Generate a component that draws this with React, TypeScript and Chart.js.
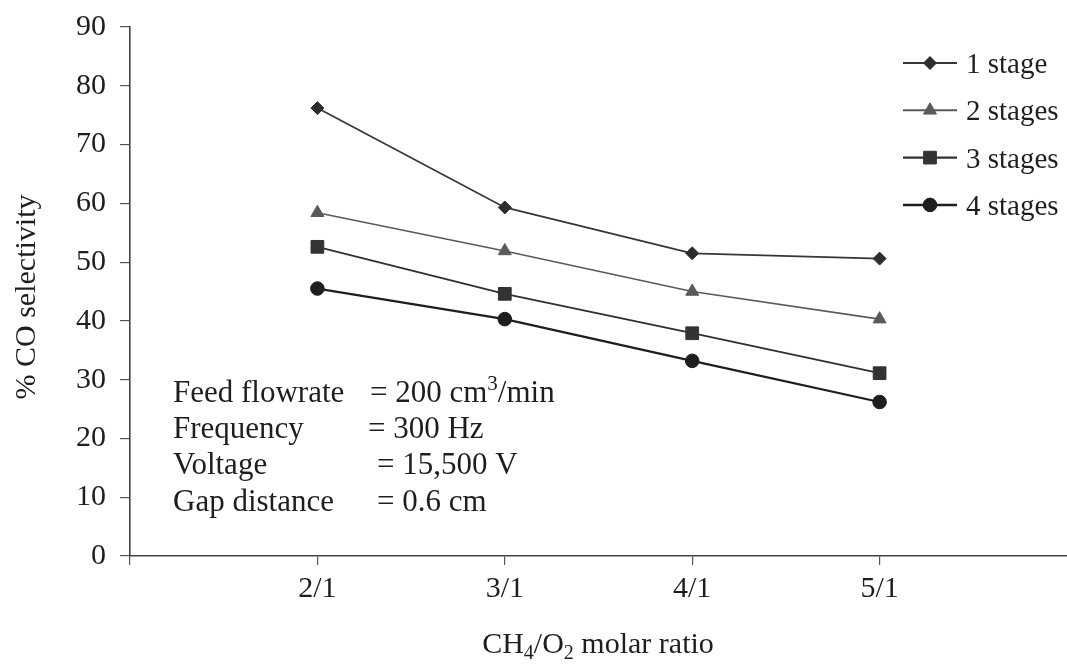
import React, { useEffect, useRef } from 'react';
import { Chart, registerables } from 'chart.js';

Chart.register(...registerables);

// ---- data ----
const categories = ['2/1', '3/1', '4/1', '5/1'];
const categoryPositions = [2, 3, 4, 5];
const seriesNames = ['1 stage', '2 stages', '3 stages', '4 stages'];
const stage1 = [76.2, 59.3, 51.5, 50.6];
const stage2 = [58.4, 51.9, 45.0, 40.3];
const stage3 = [52.6, 44.6, 37.9, 31.1];
const stage4 = [45.5, 40.3, 33.2, 26.2];
const yTitle = '% CO selectivity';
const xTitle = 'CH_4/O_2 molar ratio';
const annotationLabels = ['Feed flowrate', 'Frequency', 'Voltage', 'Gap distance'];
const annotationValues = ['= 200 cm^3/min', '= 300 Hz', '= 15,500 V', '= 0.6 cm'];

// ---- styles ----
const FONT = '"Liberation Serif", "DejaVu Serif", "Times New Roman", serif';
const TEXT = '#1e1e1e';
const styles = [
  { point: 'rectRot', radius: 6.5, color: '#2e2e2e', line: '#363636', width: 1.7 },
  { point: 'triangle', radius: 7.5, color: '#5a5a5a', line: '#5a5a5a', width: 1.6 },
  { point: 'rect', radius: 9, color: '#333333', line: '#303030', width: 1.8 },
  { point: 'circle', radius: 6.8, color: '#1e1e1e', line: '#1e1e1e', width: 2.2 },
];
const allSeries = [stage1, stage2, stage3, stage4];

type Seg = { t: string; k: 'n' | 'sup' | 'sub' };
function parseRich(s: string): Seg[] {
  const out: Seg[] = [];
  let buf = '';
  for (let i = 0; i < s.length; i++) {
    const c = s[i];
    if ((c === '^' || c === '_') && i + 1 < s.length) {
      if (buf) out.push({ t: buf, k: 'n' });
      buf = '';
      out.push({ t: s[i + 1], k: c === '^' ? 'sup' : 'sub' });
      i++;
    } else buf += c;
  }
  if (buf) out.push({ t: buf, k: 'n' });
  return out;
}

function drawRich(ctx: CanvasRenderingContext2D, s: string, x: number, y: number, size: number, align: 'left' | 'center') {
  const segs = parseRich(s);
  const small = Math.round(size * 0.68);
  const widths = segs.map((g) => {
    ctx.font = `${g.k === 'n' ? size : small}px ${FONT}`;
    return ctx.measureText(g.t).width;
  });
  const total = widths.reduce((a, b) => a + b, 0);
  let cx = align === 'center' ? x - total / 2 : x;
  ctx.textAlign = 'left';
  ctx.textBaseline = 'alphabetic';
  segs.forEach((g, i) => {
    ctx.font = `${g.k === 'n' ? size : small}px ${FONT}`;
    let dy = 0;
    if (g.k === 'sup') dy = -size * 0.38;
    if (g.k === 'sub') dy = size * 0.2;
    ctx.fillText(g.t, cx, y + dy);
    cx += widths[i];
  });
}

function drawMarker(ctx: CanvasRenderingContext2D, style: string, r: number, x: number, y: number) {
  ctx.beginPath();
  if (style === 'circle') {
    ctx.arc(x, y, r, 0, Math.PI * 2);
  } else if (style === 'rect') {
    const s = Math.SQRT1_2 * r;
    ctx.rect(x - s, y - s, 2 * s, 2 * s);
  } else if (style === 'rectRot') {
    ctx.moveTo(x, y - r);
    ctx.lineTo(x + r, y);
    ctx.lineTo(x, y + r);
    ctx.lineTo(x - r, y);
    ctx.closePath();
  } else if (style === 'triangle') {
    ctx.moveTo(x, y - r);
    ctx.lineTo(x + r * 0.866, y + r * 0.5);
    ctx.lineTo(x - r * 0.866, y + r * 0.5);
    ctx.closePath();
  }
  ctx.fill();
  ctx.stroke();
}

const overlayPlugin = {
  id: 'overlay',
  afterDraw(chart: any) {
    const ctx: CanvasRenderingContext2D = chart.ctx;
    ctx.save();
    ctx.fillStyle = TEXT;

    // y title
    ctx.save();
    ctx.translate(35, 297);
    ctx.rotate(-Math.PI / 2);
    drawRich(ctx, yTitle, 0, 0, 30, 'center');
    ctx.restore();

    // x title
    drawRich(ctx, xTitle, 598, 653, 30, 'center');

    // annotation
    const eqX = [370, 368, 377, 377];
    annotationLabels.forEach((lab, i) => {
      const by = 402 + i * 36.2;
      drawRich(ctx, lab, 173, by, 31, 'left');
      drawRich(ctx, annotationValues[i], eqX[i], by, 31, 'left');
    });

    // legend
    seriesNames.forEach((name, i) => {
      const st = styles[i];
      const ly = 63 + i * 47.3;
      ctx.strokeStyle = st.line;
      ctx.lineWidth = st.width + 0.3;
      ctx.beginPath();
      ctx.moveTo(903, ly);
      ctx.lineTo(957, ly);
      ctx.stroke();
      ctx.fillStyle = st.color;
      ctx.strokeStyle = st.color;
      ctx.lineWidth = 1;
      drawMarker(ctx, st.point, st.radius, 930, ly);
      ctx.fillStyle = TEXT;
      drawRich(ctx, name, 966, ly + 10, 29, 'left');
    });
    ctx.restore();
  },
};

export default function App() {
  const ref = useRef<HTMLCanvasElement | null>(null);
  useEffect(() => {
    document.body.style.margin = '0';
    document.body.style.background = '#ffffff';
    const canvas = ref.current;
    if (!canvas) return;
    const chart = new Chart(canvas, {
      type: 'line',
      data: {
        datasets: allSeries.map((vals, i) => ({
          label: seriesNames[i],
          data: vals.map((v, j) => ({ x: categoryPositions[j], y: v })),
          borderColor: styles[i].line,
          borderWidth: styles[i].width,
          backgroundColor: styles[i].color,
          pointBackgroundColor: styles[i].color,
          pointBorderColor: styles[i].color,
          pointBorderWidth: 1,
          pointStyle: styles[i].point as any,
          pointRadius: styles[i].radius,
          tension: 0,
          fill: false,
        })),
      },
      options: {
        animation: false,
        responsive: true,
        maintainAspectRatio: false,
        layout: { autoPadding: false, padding: { top: 27, right: 0, left: 0, bottom: 0 } },
        plugins: {
          legend: { display: false },
          tooltip: { enabled: false },
          title: { display: false },
        },
        scales: {
          x: {
            type: 'linear',
            min: 1,
            max: 6,
            afterFit: (s: any) => {
              s.height = 111;
              s.paddingLeft = 0;
              s.paddingRight = 0;
            },
            ticks: {
              stepSize: 1,
              autoSkip: false,
              maxRotation: 0,
              padding: 6,
              color: TEXT,
              font: { family: FONT, size: 30 },
              callback: (v: any) => {
                const idx = categoryPositions.indexOf(Number(v));
                return idx >= 0 ? categories[idx] : '';
              },
            },
            grid: {
              drawOnChartArea: false,
              drawTicks: true,
              tickLength: 9,
              color: (c: any) => (c.tick && c.tick.value === 6 ? 'rgba(0,0,0,0)' : '#555'),
              lineWidth: 1.2,
            },
            border: { display: true, color: '#444', width: 1.6 },
          },
          y: {
            min: 0,
            max: 90,
            afterFit: (s: any) => {
              s.width = 130;
              s.paddingTop = 0;
              s.paddingBottom = 0;
            },
            ticks: {
              stepSize: 10,
              padding: 14,
              color: TEXT,
              font: { family: FONT, size: 30 },
            },
            grid: { drawOnChartArea: false, drawTicks: true, tickLength: 10, color: '#555', lineWidth: 1.2 },
            border: { display: true, color: '#444', width: 1.6 },
          },
        },
      },
      plugins: [overlayPlugin],
    });
    return () => chart.destroy();
  }, []);
  return (
    <div style={{ position: 'relative', width: 1067, height: 667, background: '#fff' }}>
      <canvas ref={ref} />
    </div>
  );
}
